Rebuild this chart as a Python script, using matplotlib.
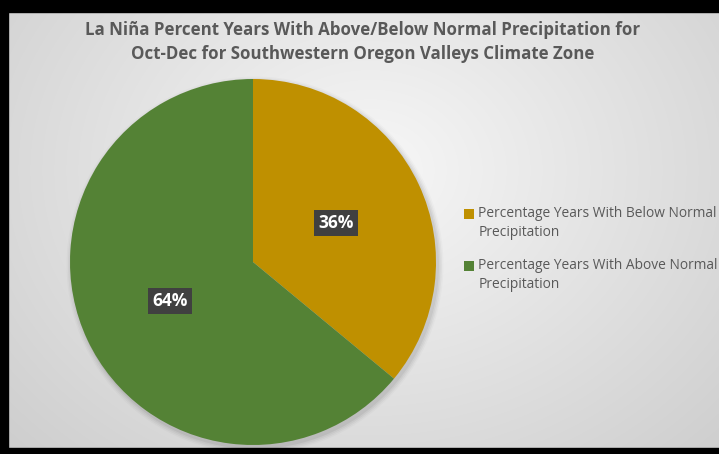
import numpy as np
import matplotlib
matplotlib.use("Agg")
import matplotlib.pyplot as plt
from matplotlib.patches import Rectangle, Circle

title = "La Niña Percent Years With Above/Below Normal Precipitation for\nOct-Dec for Southwestern Oregon Valleys Climate Zone"
labels = ["Percentage Years With Below Normal\nPrecipitation",
          "Percentage Years With Above Normal\nPrecipitation"]
values = [36, 64]
colors = ["#BF9000", "#548235"]

W, H = 719, 454
fig = plt.figure(figsize=(W / 100, H / 100), dpi=100)

# background: soft radial gradient
bg = fig.add_axes([0, 0, 1, 1])
yy, xx = np.mgrid[0:H, 0:W]
d = np.sqrt(((xx - 370) / 520.0) ** 2 + ((yy - 170) / 420.0) ** 2)
shade = np.clip(0.97 - 0.17 * d, 0.80, 0.97)
bg.imshow(np.dstack([shade] * 3), extent=[0, W, H, 0], aspect="auto")
bg.set_xlim(0, W)
bg.set_ylim(H, 0)
bg.axis("off")

# black frame (left, top, bottom)
for x, y, w, h in [(0, 0, 8, H), (0, 0, W, 12), (0, 448, W, 6)]:
    bg.add_patch(Rectangle((x, y), w, h, color="black", zorder=5))

ax = fig.add_axes([0, 0, 1, 1])
ax.set_xlim(0, W)
ax.set_ylim(0, H)
ax.set_aspect("equal")
ax.axis("off")

cx, cy, r = 253, H - 262, 183

# faint shadow under the pie
for i, a in enumerate([0.05, 0.04, 0.03, 0.02]):
    ax.add_patch(Circle((cx + 2, cy - 3), r + 1 + i * 1.5, color="black",
                        alpha=a, lw=0, zorder=1))

wedges, texts, autotexts = ax.pie(
    values, colors=colors, startangle=90, counterclock=False,
    center=(cx, cy), radius=r, autopct="%d%%", pctdistance=0.5,
    wedgeprops=dict(linewidth=0), frame=True,
    textprops=dict(color="white", fontsize=12.5, fontweight="bold",
                   family="Open Sans"))
for w in wedges:
    w.set_zorder(2)
for t in autotexts:
    t.set_zorder(4)
    t.set_bbox(dict(boxstyle="square,pad=0.25", fc="#404040", ec="none"))
ax.set_xlim(0, W)
ax.set_ylim(0, H)
ax.axis("off")

fig.text(363 / W, 1 - 42 / H, title, ha="center", va="center",
         fontsize=12.2, fontweight="bold", color="#595959",
         family="Open Sans", linespacing=1.38)

leg = ax.legend(wedges, labels, loc="upper left",
                bbox_to_anchor=(464 / W, 1 - 206 / H),
                bbox_transform=fig.transFigure, frameon=False,
                handlelength=0.7, handleheight=0.7,
                handletextpad=0.35, labelspacing=1.35, borderaxespad=0,
                borderpad=0, prop=dict(family="Open Sans", size=9.9))
for t in leg.get_texts():
    t.set_color("#595959")
    t.set_linespacing(1.35)
for h in leg.legend_handles:
    h.set_height(7)
    h.set_width(7)
    h.set_y(h.get_y() + 7)

fig.savefig("out.png", dpi=100)
